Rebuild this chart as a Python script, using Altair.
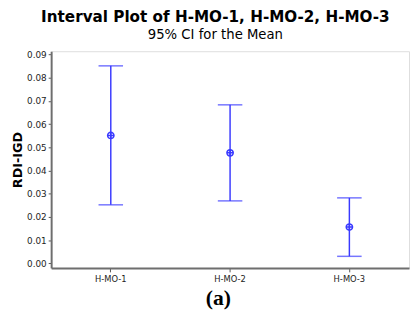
import altair as alt
import pandas as pd

categories = ["H-MO-1", "H-MO-2", "H-MO-3"]
means = [0.0551, 0.0476, 0.0156]
lower = [0.0252, 0.0269, 0.0030]
upper = [0.0851, 0.0683, 0.0282]
y_ticks = [0.00, 0.01, 0.02, 0.03, 0.04, 0.05, 0.06, 0.07, 0.08, 0.09]

df = pd.DataFrame({"cat": categories, "mean": means, "lo": lower, "hi": upper})

BLUE = "#3a3aff"
FONT = "DejaVu Sans"

x_axis = alt.Axis(
    title="(a)",
    titleFont="Liberation Serif",
    titleFontSize=22,
    titleFontWeight="bold",
    titleColor="#000",
    titlePadding=5,
    titleX=170,
    labelAngle=0,
    labelFont=FONT,
    labelFontSize=8.5,
    labelColor="#222",
    labelPadding=3,
    tickSize=4,
    tickColor="#555",
    domainColor="#6e6e6e",
    domainWidth=2,
    grid=False,
)
x_scale = alt.Scale(paddingInner=0, paddingOuter=0)

y_scale = alt.Scale(domain=[-0.002, 0.0914], nice=False, zero=False)
y_axis = alt.Axis(
    title="RDI-IGD",
    titleFont=FONT,
    titleFontSize=13,
    titleFontWeight="bold",
    titleColor="#000",
    titlePadding=2,
    values=y_ticks,
    format=".2f",
    labelOverlap=False,
    labelFont=FONT,
    labelFontSize=9,
    labelColor="#222",
    labelPadding=2,
    tickSize=3,
    tickColor="#555",
    domainColor="#6e6e6e",
    domainWidth=2,
    grid=False,
)


def X():
    return alt.X("cat:N", sort=categories, scale=x_scale, axis=x_axis)


def Y(field):
    return alt.Y(field, scale=y_scale, axis=y_axis)


base = alt.Chart(df)

rules = base.mark_rule(color=BLUE, strokeWidth=1.5).encode(
    x=X(), y=Y("lo:Q"), y2="hi:Q"
)
caps_hi = base.mark_tick(color=BLUE, size=25, thickness=1.5).encode(
    x=X(), y=Y("hi:Q")
)
caps_lo = base.mark_tick(color=BLUE, size=25, thickness=1.5).encode(
    x=X(), y=Y("lo:Q")
)
marker = "M-1,0A1,1,0,1,1,1,0A1,1,0,1,1,-1,0M-1,0L1,0M0,-1L0,1"
points = base.mark_point(
    shape=marker, filled=False, color=BLUE, size=42, strokeWidth=1.5, opacity=1
).encode(x=X(), y=Y("mean:Q"))

chart = (
    alt.layer(rules, caps_hi, caps_lo, points)
    .properties(
        width=365,
        height=221,
        autosize=alt.AutoSizeParams(type="none"),
        padding={"left": 44, "top": 41, "right": 1, "bottom": 50},
        title=alt.TitleParams(
            "Interval Plot of H-MO-1, H-MO-2, H-MO-3",
            subtitle="95% CI for the Mean",
            anchor="middle",
            dx=-15,
            font=FONT,
            fontSize=15.5,
            fontWeight="bold",
            color="#000",
            subtitleFont=FONT,
            subtitleFontSize=13.5,
            subtitleColor="#000",
            subtitlePadding=3,
            offset=9,
        ),
    )
    .configure_view(stroke="#6e6e6e", strokeWidth=1.5)
    .configure(background="white")
)

chart.save("out.html", embed_options={"renderer": "svg", "actions": False})
